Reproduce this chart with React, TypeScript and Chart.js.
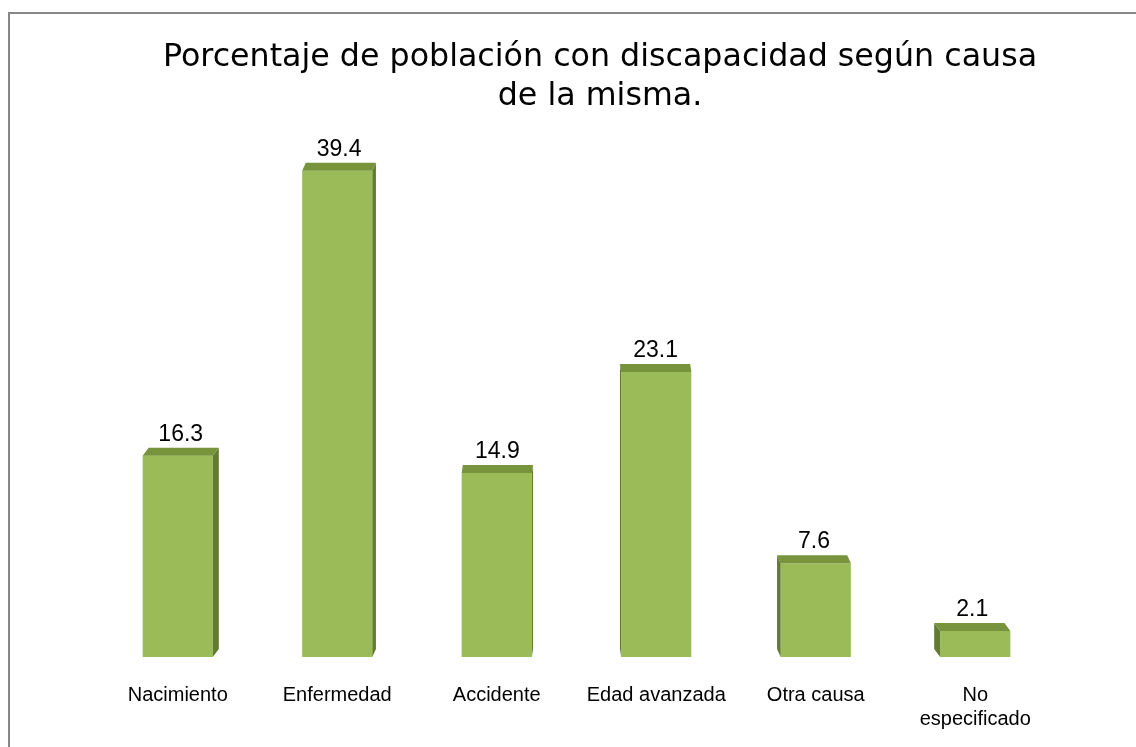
import React, { useEffect, useRef } from "react";
import { Chart, registerables } from "chart.js";

Chart.register(...registerables);

const TITLE_LINES = ["Porcentaje de población con discapacidad según causa", "de la misma."];
const CATEGORIES: (string | string[])[] = [
  "Nacimiento",
  "Enfermedad",
  "Accidente",
  "Edad avanzada",
  "Otra causa",
  ["No", "especificado"],
];
const VALUES = [16.3, 39.4, 14.9, 23.1, 7.6, 2.1];
const VALUE_LABELS = ["16.3", "39.4", "14.9", "23.1", "7.6", "2.1"];

const FRONT = "#9BBB59";
const TOP = "#77933C";
const SIDE = "#627B30";

const titlePlugin = {
  id: "customTitle",
  afterDraw(chart: any) {
    const ctx = chart.ctx;
    ctx.save();
    ctx.font = "31.7px 'DejaVu Sans'";
    ctx.fillStyle = "#000";
    ctx.textAlign = "center";
    ctx.textBaseline = "alphabetic";
    const cx = 590;
    ctx.fillText(TITLE_LINES[0], cx, 52);
    ctx.fillText(TITLE_LINES[1], cx, 91);
    ctx.restore();
  },
};

const bar3dPlugin = {
  id: "bar3d",
  afterDatasetsDraw(chart: any) {
    const ctx = chart.ctx;
    const meta = chart.getDatasetMeta(0);
    const cx = (chart.chartArea.left + chart.chartArea.right) / 2;
    ctx.save();
    meta.data.forEach((bar: any, i: number) => {
      const { x, y, width, base } = bar.getProps(["x", "y", "width", "base"], true);
      const l = x - width / 2;
      const r = x + width / 2;
      const dx = -(x - cx) * 0.015;
      const dy = -8;
      // side face
      ctx.fillStyle = SIDE;
      ctx.beginPath();
      if (dx >= 0) {
        ctx.moveTo(r, y);
        ctx.lineTo(r + dx, y + dy);
        ctx.lineTo(r + dx, base + dy);
        ctx.lineTo(r, base);
      } else {
        ctx.moveTo(l, y);
        ctx.lineTo(l + dx, y + dy);
        ctx.lineTo(l + dx, base + dy);
        ctx.lineTo(l, base);
      }
      ctx.closePath();
      ctx.fill();
      // top face
      ctx.fillStyle = TOP;
      ctx.beginPath();
      ctx.moveTo(l, y);
      ctx.lineTo(r, y);
      ctx.lineTo(r + dx, y + dy);
      ctx.lineTo(l + dx, y + dy);
      ctx.closePath();
      ctx.fill();
      // value label
      ctx.fillStyle = "#000";
      ctx.font = "23px 'Liberation Sans'";
      ctx.textAlign = "center";
      ctx.textBaseline = "alphabetic";
      ctx.fillText(VALUE_LABELS[i], x + dx / 2, y + dy - 7);
    });
    ctx.restore();
  },
};

export default function App() {
  const canvasRef = useRef<HTMLCanvasElement | null>(null);

  useEffect(() => {
    if (!canvasRef.current) return;
    const chart = new Chart(canvasRef.current, {
      type: "bar",
      data: {
        labels: CATEGORIES,
        datasets: [
          {
            data: VALUES,
            backgroundColor: FRONT,
            borderWidth: 0,
            barPercentage: 0.44,
            categoryPercentage: 1,
          },
        ],
      },
      options: {
        responsive: false,
        animation: false,
        layout: { padding: { top: 100, left: 88, right: 137, bottom: 17 } },
        plugins: {
          legend: { display: false },
          title: { display: false },
          tooltip: { enabled: false },
        },
        scales: {
          y: { display: false, min: 0, max: 44 },
          x: {
            grid: { display: false, drawTicks: false },
            border: { display: false },
            ticks: {
              color: "#000",
              padding: 26,
              maxRotation: 0,
              autoSkip: false,
              font: { family: "'Liberation Sans'", size: 20, lineHeight: 1.2 },
            },
          },
        },
      },
      plugins: [bar3dPlugin, titlePlugin],
    });
    return () => chart.destroy();
  }, []);

  return (
    <div
      style={{
        position: "fixed",
        left: 8,
        top: 12,
        width: 1182,
        height: 760,
        border: "2px solid #878787",
        background: "#fff",
      }}
    >
      <canvas ref={canvasRef} width={1182} height={760} style={{ display: "block" }} />
    </div>
  );
}
